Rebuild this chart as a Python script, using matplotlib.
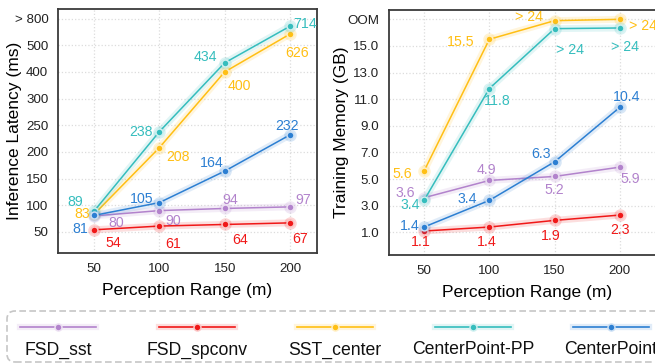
import numpy as np
import matplotlib
matplotlib.use("Agg")
import matplotlib.pyplot as plt
from matplotlib.lines import Line2D
from matplotlib.patches import FancyBboxPatch

plt.rcParams['font.family'] = ['Liberation Sans', 'DejaVu Sans']

# ---------------- data ----------------
ranges = [50, 100, 150, 200]
series_names = ["FSD_sst", "FSD_spconv", "SST_center", "CenterPoint-PP", "CenterPoint"]
colors = ["#b283cc", "#f01818", "#ffbf14", "#35bdbd", "#2c7fd2"]

latency_fsd_sst = [80, 90, 94, 97]
latency_fsd_spconv = [54, 61, 64, 67]
latency_sst_center = [83, 208, 400, 626]
latency_cp_pp = [89, 238, 434, 714]
latency_cp = [81, 105, 164, 232]

memory_fsd_sst = [3.6, 4.9, 5.2, 5.9]
memory_fsd_spconv = [1.1, 1.4, 1.9, 2.3]
memory_sst_center = [5.6, 15.5, 16.9, 17.0]     # last two are OOM (> 24)
memory_cp_pp = [3.4, 11.8, 16.3, 16.35]         # last two are OOM (> 24)
memory_cp = [1.4, 3.4, 6.3, 10.4]

memory_labels_sst_center = ["5.6", "15.5", "> 24", "> 24"]
memory_labels_cp_pp = ["3.4", "11.8", "> 24", "> 24"]

lat_ticks = [50, 100, 150, 200, 250, 300, 400, 500, 800]
lat_ticklabels = ["50", "100", "150", "200", "250", "300", "400", "500", "> 800"]
mem_ticks = [1, 3, 5, 7, 9, 11, 13, 15, 17]
mem_ticklabels = ["1.0", "3.0", "5.0", "7.0", "9.0", "11.0", "13.0", "15.0", "OOM"]

# annotation offsets (pixels)
lat_offsets = [
    [(22, -7), (14, -10), (6, 8), (13, 7)],
    [(19, -13), (14, -18), (15, -16), (10, -16)],
    [(-12, 0), (19, -9), (15, -14), (7, -19)],
    [(-19, 9), (-18, 0), (-19, 6), (15, 2)],
    [(-14, -14), (-18, 4), (-13, 8), (-3, 9)],
]
mem_offsets = [
    [(-19, 5), (-3, 10), (0, -14), (10, -12)],
    [(-3, -11), (-3, -15), (-4, -16), (0, -15)],
    [(-22, -3), (-29, -3), (-26, 4), (23, -7)],
    [(-14, -5), (8, -12), (15, -21), (5, -19)],
    [(-14, 1), (-22, 1), (-14, 8), (7, 10)],
]

lat_data = [latency_fsd_sst, latency_fsd_spconv, latency_sst_center, latency_cp_pp, latency_cp]
mem_data = [memory_fsd_sst, memory_fsd_spconv, memory_sst_center, memory_cp_pp, memory_cp]
lat_labels = [[str(v) for v in s] for s in lat_data]
mem_labels = [[f"{v:.1f}" for v in memory_fsd_sst], [f"{v:.1f}" for v in memory_fsd_spconv],
              memory_labels_sst_center, memory_labels_cp_pp, [f"{v:.1f}" for v in memory_cp]]

# piecewise scale for latency axis
bp_vals = np.array([-50, 0, 50, 100, 150, 200, 250, 300, 400, 500, 800, 1100, 2000])
bp_idx = np.array([-2, -1, 0, 1, 2, 3, 4, 5, 6, 7, 8, 9, 12])


def fwd(v):
    return np.interp(v, bp_vals, bp_idx)


def inv(i):
    return np.interp(i, bp_idx, bp_vals)


W, H = 655, 364
fig = plt.figure(figsize=(W / 100, H / 100), dpi=100)

ax1 = fig.add_axes([58 / W, 1 - 253 / H, 259 / W, 244 / H])
ax2 = fig.add_axes([389 / W, 1 - 255 / H, 276 / W, 245 / H])


def light(c, f=0.55):
    rgb = np.array(matplotlib.colors.to_rgb(c))
    return tuple(rgb + (1 - rgb) * f)


def draw(ax, data, labels, offsets):
    for i, (ys, c) in enumerate(zip(data, colors)):
        ax.plot(ranges, ys, color=c, lw=5, alpha=0.14, solid_capstyle='round', zorder=2 + i)
        ax.plot(ranges, ys, color=c, lw=1.1, zorder=2.1 + i)
        ax.plot(ranges, ys, ls='none', marker='o', ms=9, color=c, alpha=0.18, mew=0, zorder=2.2 + i)
        ax.plot(ranges, ys, ls='none', marker='o', ms=5, mfc=c, mec=light(c, 0.75), mew=1.1, zorder=2.3 + i)
        for x, y, lab, off in zip(ranges, ys, labels[i], offsets[i]):
            ax.annotate(lab, (x, y), xytext=off, textcoords='offset pixels',
                        ha='center', va='center', color=c, fontsize=10.2, zorder=10)


for ax in (ax1, ax2):
    ax.set_facecolor('white')
    ax.grid(True, color='#dcdcdc', ls=':', lw=0.9)
    ax.set_axisbelow(True)
    for s in ax.spines.values():
        s.set_color('#3a3a3a')
        s.set_linewidth(1.3)
    ax.tick_params(length=0, labelsize=9.6, pad=7, colors='#222222')
    ax.set_xticks(ranges)
    ax.set_xlabel("Perception Range (m)", fontsize=12.5, labelpad=6)

ax1.set_yscale('function', functions=(fwd, inv))
ax1.set_xlim(22.4, 220.7)
ax1.set_ylim(10.5, 908)
ax1.set_yticks(lat_ticks)
ax1.set_yticklabels(lat_ticklabels)
ax1.yaxis.set_minor_locator(matplotlib.ticker.NullLocator())
ax1.set_ylabel("Inference Latency (ms)", fontsize=12.5)
ax1.yaxis.set_label_coords(-36 / 259, 0.5)
draw(ax1, lat_data, lat_labels, lat_offsets)

ax2.set_xlim(23.2, 234.5)
ax2.set_ylim(-0.7, 17.7)
ax2.set_yticks(mem_ticks)
ax2.set_yticklabels(mem_ticklabels)
ax2.set_ylabel("Training Memory (GB)", fontsize=12.5)
ax2.yaxis.set_label_coords(-40 / 276, 0.5)
draw(ax2, mem_data, mem_labels, mem_offsets)

# legend (manual, handle above text)
T = fig.dpi_scale_trans
box = FancyBboxPatch((7 / 100, 2 / 100), 720 / 100, 51 / 100,
                     boxstyle="round,pad=0,rounding_size=0.08", transform=T,
                     fill=False, ec='#c6c6c6', lw=1.2, ls=(0, (4, 2)))
fig.add_artist(box)
leg_x = [58, 197, 335, 473, 611]
hy = 1 - 327 / H
for name, c, xm in zip(series_names, colors, leg_x):
    xs = [(xm - 38) / W, (xm + 38) / W]
    fig.add_artist(Line2D(xs, [hy, hy], transform=fig.transFigure, color=c, lw=4.5, alpha=0.14))
    fig.add_artist(Line2D(xs, [hy, hy], transform=fig.transFigure, color=c, lw=1.2))
    fig.add_artist(Line2D([xm / W], [hy], transform=fig.transFigure, color=c, marker='o',
                          ms=5, mfc=c, mec=light(c, 0.75), mew=1.1))
    fig.text(xm / W, 1 - 350 / H, name, ha='center', va='center', fontsize=12.7, color='#111111')

fig.savefig("out.png", dpi=100)
